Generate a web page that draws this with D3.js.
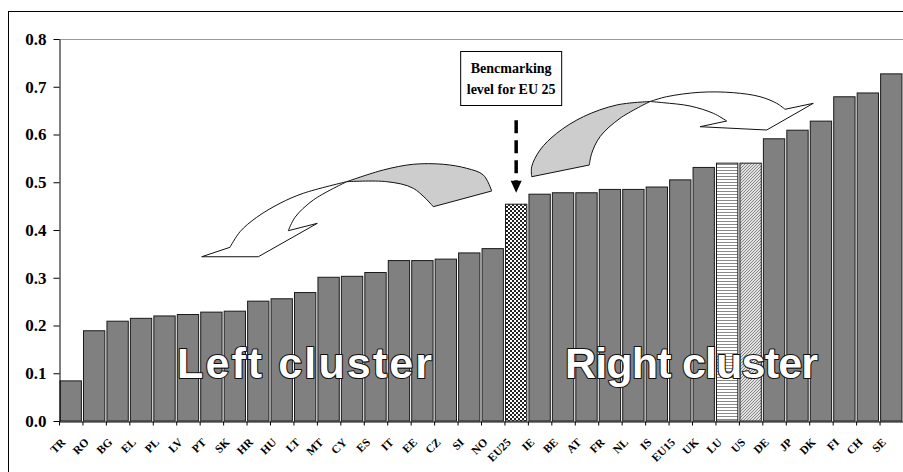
<!DOCTYPE html>
<html>
<head>
<meta charset="utf-8">
<script src="https://cdn.jsdelivr.net/npm/d3@7"></script>
<style>
  html, body { margin: 0; padding: 0; background: #fff; }
  svg { display: block; }
</style>
</head>
<body>
<svg id="chart" width="903" height="472"></svg>
<script>
// Country codes, left to right (sorted by score)
const categories = ["TR","RO","BG","EL","PL","LV","PT","SK","HR","HU","LT","MT","CY","ES","IT","EE","CZ","SI","NO","EU25","IE","BE","AT","FR","NL","IS","EU15","UK","LU","US","DE","JP","DK","FI","CH","SE"];
// Score per country
const values = [0.084,0.189,0.209,0.215,0.220,0.223,0.228,0.230,0.251,0.256,0.269,0.301,0.303,0.311,0.336,0.336,0.339,0.352,0.361,0.454,0.475,0.478,0.478,0.485,0.485,0.490,0.505,0.531,0.540,0.540,0.591,0.609,0.628,0.679,0.687,0.727];
// Y axis ticks
const yTicks = [0.0,0.1,0.2,0.3,0.4,0.5,0.6,0.7,0.8];
// Bars that get a pattern instead of the plain grey fill
const patterned = { "EU25": "url(#checker)", "LU": "url(#hlines)", "US": "url(#hatch)" };
// Annotation texts
const boxLines = ["Bencmarking", "level for EU 25"];
const clusterLabels = ["Left cluster", "Right cluster"];

// Curved block arrows, outlines given as [category position, score]
const leftArrowFront = [
  { smooth: false, pts: [[6.087,0.344],[7.294,0.3638]] },
  { smooth: true,  pts: [[7.294,0.3638],[7.721,0.3964],[8.433,0.4266],[9.427,0.4559],[10.421,0.4769],[12.272,0.5012]] },
  { smooth: true,  pts: [[12.272,0.5012],[10.847,0.4628],[10.067,0.4266],[9.781,0.3985]] },
  { smooth: false, pts: [[9.781,0.3985],[11.018,0.414],[8.501,0.344],[6.087,0.344]] }
];
const leftArrowBack = [
  { smooth: true,  pts: [[12.272,0.5012],[13.833,0.5257],[15.113,0.5376],[16.393,0.5376],[17.391,0.5292],[18.099,0.5152],[18.457,0.4817]] },
  { smooth: false, pts: [[18.457,0.4817],[15.966,0.4488]] },
  { smooth: true,  pts: [[15.966,0.4488],[15.113,0.4873],[13.978,0.5012],[12.272,0.5012]] }
];
const rightArrowBack = [
  { smooth: true,  pts: [[20.163,0.5116],[20.163,0.5326],[20.517,0.5675],[21.229,0.6025],[22.364,0.6373],[23.789,0.6618],[25.21,0.6691]] },
  { smooth: true,  pts: [[25.21,0.6691],[23.93,0.6339],[23.077,0.5954],[22.722,0.5606],[22.62,0.5361]] },
  { smooth: false, pts: [[22.62,0.5361],[20.163,0.5116]] }
];
const rightArrowFront = [
  { smooth: true,  pts: [[25.21,0.6691],[25.921,0.6792],[27.342,0.6884],[28.762,0.6876],[29.9,0.6792],[30.613,0.6653],[30.967,0.6528]] },
  { smooth: false, pts: [[30.967,0.6528],[32.174,0.6653],[30.187,0.6094],[27.342,0.6163],[28.481,0.6283]] },
  { smooth: true,  pts: [[28.481,0.6283],[27.909,0.6444],[26.915,0.6597],[25.776,0.6666],[25.21,0.6691]] }
];

const svg = d3.select("#chart");
const W = 903, H = 472;
const plot = { left: 59, right: 903, top: 39, bottom: 421 };

const x = d3.scaleBand().domain(categories).range([plot.left, plot.right])
  .paddingInner(0.09).paddingOuter(0.045);
const xPos = d3.scaleLinear().domain([0, categories.length]).range([plot.left, plot.right]);
const y = d3.scaleLinear().domain([0, 0.8]).range([plot.bottom, plot.top]);

// Patterns
const defs = svg.append("defs");
const ck = defs.append("pattern").attr("id", "checker").attr("patternUnits", "userSpaceOnUse")
  .attr("width", 4).attr("height", 4);
ck.append("rect").attr("width", 4).attr("height", 4).attr("fill", "#fff");
ck.append("rect").attr("width", 2).attr("height", 2).attr("fill", "#222");
ck.append("rect").attr("x", 2).attr("y", 2).attr("width", 2).attr("height", 2).attr("fill", "#222");

const hl = defs.append("pattern").attr("id", "hlines").attr("patternUnits", "userSpaceOnUse")
  .attr("width", 4).attr("height", 3);
hl.append("rect").attr("width", 4).attr("height", 3).attr("fill", "#fff");
hl.append("rect").attr("y", 2).attr("width", 4).attr("height", 1).attr("fill", "#8a8a8a");

const ht = defs.append("pattern").attr("id", "hatch").attr("patternUnits", "userSpaceOnUse")
  .attr("width", 3).attr("height", 3);
ht.append("rect").attr("width", 3).attr("height", 3).attr("fill", "#e2e2e2");
ht.append("path").attr("d", "M-1,1 L1,-1 M0,3 L3,0 M2,4 L4,2").attr("stroke", "#7a7a7a").attr("stroke-width", 0.9);

// Outer chart frame
svg.append("rect").attr("x", 8.5).attr("y", 11.5).attr("width", W + 20).attr("height", H + 20)
  .attr("fill", "none").attr("stroke", "#000").attr("stroke-width", 1);

// Plot area top border
svg.append("line").attr("x1", plot.left).attr("x2", plot.right)
  .attr("y1", plot.top + 0.5).attr("y2", plot.top + 0.5)
  .attr("stroke", "#9a9a9a").attr("stroke-width", 1);

// Bars
svg.append("g").selectAll("rect").data(categories).join("rect")
  .attr("x", d => x(d))
  .attr("y", (d, i) => y(values[i]))
  .attr("width", x.bandwidth())
  .attr("height", (d, i) => y(0) - y(values[i]))
  .attr("fill", d => patterned[d] || "#808080")
  .attr("stroke", "#1a1a1a").attr("stroke-width", 1);

// Y axis
const yAxis = svg.append("g").attr("transform", `translate(${plot.left + 0.5},0)`)
  .call(d3.axisLeft(y).tickValues(yTicks).tickFormat(d3.format(".1f")).tickSize(6).tickSizeOuter(0).tickPadding(7));
yAxis.select(".domain").attr("stroke", "#000");
yAxis.selectAll(".tick line").attr("stroke", "#000");
yAxis.selectAll("text").attr("font-family", "'Liberation Serif','Times New Roman',serif")
  .attr("font-weight", "bold").attr("font-size", 17).attr("fill", "#000");

// X axis: ticks on category boundaries
const xAxis = svg.append("g").attr("transform", `translate(0,${plot.bottom + 0.5})`)
  .call(d3.axisBottom(xPos).tickValues(d3.range(0, categories.length)).tickFormat("").tickSize(4).tickSizeOuter(0));
xAxis.select(".domain").attr("stroke", "#000");
xAxis.selectAll(".tick line").attr("stroke", "#000");

// Rotated category labels
svg.append("g").selectAll("text").data(categories).join("text")
  .attr("transform", d => `translate(${x(d) + x.bandwidth() / 2 - 4.5},${plot.bottom + 22}) rotate(-45)`)
  .attr("text-anchor", "end")
  .attr("font-family", "'Liberation Serif','Times New Roman',serif")
  .attr("font-weight", "bold").attr("font-size", 11.5).attr("fill", "#000")
  .text(d => d);

// Curved arrows
function shapePath(parts) {
  const toXY = p => [xPos(p[0]), y(p[1])];
  let d = "";
  parts.forEach((part, k) => {
    const gen = d3.line().curve(part.smooth ? d3.curveCatmullRom.alpha(0.5) : d3.curveLinear);
    let s = gen(part.pts.map(toXY));
    if (k > 0) s = "L" + s.slice(1);
    d += s;
  });
  return d + "Z";
}
const arrows = svg.append("g").attr("stroke", "#111").attr("stroke-width", 1).attr("stroke-linejoin", "round");
[[leftArrowFront, "#fff"], [leftArrowBack, "#cdcdcd"], [rightArrowBack, "#cdcdcd"], [rightArrowFront, "#fff"]]
  .forEach(([parts, fill]) => arrows.append("path").attr("d", shapePath(parts)).attr("fill", fill));

// Benchmark box and dashed pointer to the EU25 bar
const euIndex = categories.indexOf("EU25");
const euX = x("EU25") + x.bandwidth() / 2;
const boxCx = euX - 5;
const box = svg.append("g");
box.append("rect").attr("x", boxCx - 50.5).attr("y", 51.5).attr("width", 101).attr("height", 54)
  .attr("fill", "#fff").attr("stroke", "#000").attr("stroke-width", 1);
box.selectAll("text").data(boxLines).join("text")
  .attr("x", boxCx).attr("y", (d, i) => 73 + i * 21)
  .attr("text-anchor", "middle")
  .attr("font-family", "'Liberation Serif','Times New Roman',serif")
  .attr("font-weight", "bold").attr("font-size", 14).attr("fill", "#000")
  .text(d => d);

const arrowTop = y(0.63), arrowTip = y(values[euIndex] + 0.024);
svg.append("line").attr("x1", euX).attr("x2", euX).attr("y1", arrowTop).attr("y2", arrowTip - 11)
  .attr("stroke", "#000").attr("stroke-width", 3.5).attr("stroke-dasharray", "13,7");
svg.append("path")
  .attr("d", `M${euX - 5.5},${arrowTip - 12}L${euX + 5.5},${arrowTip - 12}L${euX},${arrowTip}Z`)
  .attr("fill", "#000");

// Cluster captions
const capPos = [[177, 432], [565, 818]];
svg.append("g").selectAll("text").data(clusterLabels).join("text")
  .attr("x", (d, i) => capPos[i][0]).attr("y", 378)
  .attr("textLength", (d, i) => capPos[i][1] - capPos[i][0])
  .attr("lengthAdjust", "spacing")
  .attr("font-family", "'Liberation Sans',Arial,sans-serif")
  .attr("font-weight", "bold").attr("font-size", 43)
  .attr("fill", "#fff").attr("stroke", "#111").attr("stroke-width", 2.2)
  .attr("paint-order", "stroke").attr("stroke-linejoin", "round")
  .text(d => d);
</script>
</body>
</html>
